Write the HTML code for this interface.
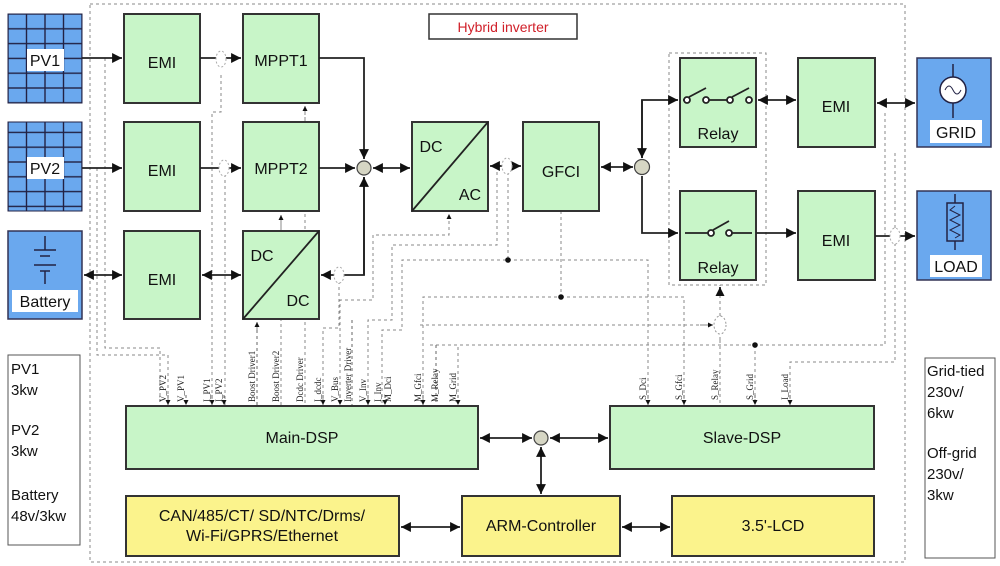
<!DOCTYPE html>
<html><head><meta charset="utf-8"><style>
html,body{margin:0;padding:0;background:#fff;}
svg{display:block;font-family:"Liberation Sans",sans-serif;}
.g{fill:#c8f5c8;stroke:#333;stroke-width:2}
.y{fill:#fbf38c;stroke:#333;stroke-width:2}
.b{fill:#6aa8ee;stroke:#335;stroke-width:1.5}
.ln{stroke:#222;stroke-width:1.8;fill:none}
.d{stroke:#888;stroke-width:1;fill:none;stroke-dasharray:3,3}
.t{font-size:16px;fill:#111;text-anchor:middle}
.v{font-family:"Liberation Serif",serif;font-size:9px;fill:#222}
</style></head><body>
<svg width="1000" height="566" viewBox="0 0 1000 566">
<defs>
<marker id="a" viewBox="0 0 10 10" refX="10" refY="5" markerWidth="5.5" markerHeight="5.5" orient="auto-start-reverse"><path d="M0,0L10,5L0,10z" fill="#111"/></marker>
<marker id="s" viewBox="0 0 10 10" refX="10" refY="5" markerWidth="5" markerHeight="5" orient="auto-start-reverse"><path d="M0,0L10,5L0,10z" fill="#111"/></marker>
<pattern id="grid" width="18.5" height="14.8" patternUnits="userSpaceOnUse" x="8" y="14"><rect width="18.5" height="14.8" fill="#6aa8ee" stroke="#224" stroke-width="1.4"/></pattern>
</defs>
<rect x="90" y="4" width="815" height="558" class="d"/>
<rect x="669" y="53" width="97" height="232" class="d"/>
<g class="d">
<path d="M105,58V348H160V405"/><path d="M97,168V355H168V405"/>
<path d="M221,75V112H212V405"/><path d="M225,168V405"/>
<path d="M305,106V405"/><path d="M281,216V405"/>
<path d="M339,275V328H323V405"/>
<path d="M449,215V235H373V300H340V405"/>
<path d="M497,166V245H392V320H368V405"/>
<path d="M508,166V260H402V330H382V405"/>
<path d="M561,211V297H423V405"/>
<path d="M508,260H648V405"/>
<path d="M561,297H684V405"/>
<path d="M420,325H712"/><path d="M436,345H458V405"/>
<path d="M720,340V285"/><path d="M720,340V405"/>
<path d="M755,345V405"/><path d="M430,345H885V110"/>
<path d="M790,405V362H895V240"/><path d="M895,240V150"/>
</g>
<circle cx="508" cy="260" r="2.8" fill="#111"/><circle cx="561" cy="297" r="2.8" fill="#111"/><circle cx="755" cy="345" r="2.8" fill="#111"/>
<ellipse cx="720" cy="325" rx="6" ry="9" fill="#fff" stroke="#999" stroke-dasharray="2,2"/>
<line x1="720" y1="290" x2="720" y2="287" class="ln" marker-end="url(#s)"/>
<line x1="700" y1="325" x2="713" y2="325" stroke="#888" marker-end="url(#s)"/>
<rect x="8" y="14" width="74" height="89" fill="url(#grid)" stroke="#224"/>
<rect x="27" y="49" width="37" height="22" fill="#fff"/><text x="45" y="66" class="t">PV1</text>
<rect x="8" y="122" width="74" height="89" fill="url(#grid)" stroke="#224"/>
<rect x="27" y="157" width="37" height="22" fill="#fff"/><text x="45" y="174" class="t">PV2</text>
<rect x="8" y="231" width="74" height="88" class="b"/>
<rect x="12" y="290" width="66" height="22" fill="#fff"/><text x="45" y="307" class="t">Battery</text>
<g stroke="#224" stroke-width="1.5"><line x1="45" y1="236" x2="45" y2="250"/><line x1="34" y1="250" x2="56" y2="250"/><line x1="40" y1="256" x2="50" y2="256"/><line x1="34" y1="265" x2="56" y2="265"/><line x1="40" y1="271" x2="50" y2="271"/><line x1="45" y1="271" x2="45" y2="284"/></g>
<rect x="124" y="14" width="76" height="89" class="g"/><text x="162" y="68" class="t">EMI</text>
<rect x="124" y="122" width="76" height="89" class="g"/><text x="162" y="176" class="t">EMI</text>
<rect x="124" y="231" width="76" height="88" class="g"/><text x="162" y="285" class="t">EMI</text>
<rect x="243" y="14" width="76" height="89" class="g"/><text x="281" y="66" class="t">MPPT1</text>
<rect x="243" y="122" width="76" height="89" class="g"/><text x="281" y="174" class="t">MPPT2</text>
<rect x="243" y="231" width="76" height="88" class="g"/><line x1="243" y1="319" x2="319" y2="231" class="ln"/>
<text x="262" y="261" class="t">DC</text><text x="298" y="306" class="t">DC</text>
<rect x="412" y="122" width="76" height="89" class="g"/><line x1="412" y1="211" x2="488" y2="122" class="ln"/>
<text x="431" y="152" class="t">DC</text><text x="470" y="200" class="t">AC</text>
<rect x="523" y="122" width="76" height="89" class="g"/><text x="561" y="177" class="t">GFCI</text>
<rect x="680" y="58" width="76" height="89" class="g"/><text x="718" y="139" class="t">Relay</text>
<rect x="680" y="191" width="76" height="89" class="g"/><text x="718" y="273" class="t">Relay</text>
<rect x="798" y="58" width="77" height="89" class="g"/><text x="836" y="112" class="t">EMI</text>
<rect x="798" y="191" width="77" height="89" class="g"/><text x="836" y="246" class="t">EMI</text>
<rect x="917" y="58" width="74" height="89" class="b"/><rect x="930" y="120" width="52" height="23" fill="#fff"/><text x="956" y="138" class="t">GRID</text>
<line x1="953" y1="64" x2="953" y2="118" stroke="#224" stroke-width="1.5"/><circle cx="953" cy="90" r="13" fill="#fff" stroke="#224" stroke-width="1.5"/><path d="M945,90q4,-8 8,0t8,0" stroke="#224" fill="none"/>
<rect x="917" y="191" width="74" height="89" class="b"/><rect x="930" y="255" width="52" height="22" fill="#fff"/><text x="956" y="272" class="t">LOAD</text>
<line x1="955" y1="194" x2="955" y2="250" stroke="#224" stroke-width="1.5"/><rect x="947" y="203" width="16" height="38" fill="#6aa8ee" stroke="#224" stroke-width="1.5"/><path d="M955,206l-5,4l10,5l-10,5l10,5l-10,5l10,5l-5,3" stroke="#224" fill="none"/>
<g class="ln"><path d="M683,100H687"/><circle cx="687" cy="100" r="3" fill="#fff"/><path d="M689,97L706,88"/><circle cx="706" cy="100" r="3" fill="#fff"/><path d="M709,100H728"/><circle cx="730" cy="100" r="3" fill="#fff"/><path d="M732,97L749,88"/><circle cx="749" cy="100" r="3" fill="#fff"/>
<path d="M685,233H709"/><circle cx="711" cy="233" r="3" fill="#fff"/><path d="M713,230L729,221"/><circle cx="729" cy="233" r="3" fill="#fff"/><path d="M732,233H752"/></g>
<rect x="429" y="14" width="148" height="25" fill="#fff" stroke="#333" stroke-width="1.5"/><text x="503" y="32" font-size="14" fill="#d0202a" text-anchor="middle">Hybrid inverter</text>
<g class="ln">
<path d="M82,58H122" marker-end="url(#a)"/><path d="M82,168H122" marker-end="url(#a)"/><path d="M84,275H122" marker-start="url(#a)" marker-end="url(#a)"/>
<path d="M200,58H241" marker-end="url(#a)"/><path d="M200,168H241" marker-end="url(#a)"/><path d="M202,275H241" marker-start="url(#a)" marker-end="url(#a)"/>
<path d="M319,58H364V159" marker-end="url(#a)"/><path d="M319,168H355" marker-end="url(#a)"/>
<path d="M364,177V275H321" marker-end="url(#a)"/><path d="M364,275V177" marker-end="url(#a)"/>
<path d="M373,168H410" marker-start="url(#a)" marker-end="url(#a)"/>
<path d="M490,166H521" marker-start="url(#a)" marker-end="url(#a)"/>
<path d="M601,167H633" marker-start="url(#a)" marker-end="url(#a)"/>
<path d="M642,158V100H678" marker-end="url(#a)"/><path d="M642,100V158" marker-end="url(#a)"/>
<path d="M642,176V233H678" marker-end="url(#a)"/>
<path d="M758,100H796" marker-start="url(#a)" marker-end="url(#a)"/>
<path d="M756,233H796" marker-end="url(#a)"/>
<path d="M877,103H915" marker-start="url(#a)" marker-end="url(#a)"/>
<path d="M875,236H915" marker-end="url(#a)"/>
</g>
<circle cx="364" cy="168" r="7" fill="#d6d6c4" stroke="#444" stroke-width="1.2"/>
<circle cx="642" cy="167" r="7.5" fill="#d6d6c4" stroke="#444" stroke-width="1.2"/>
<g fill="#fff" stroke="#aaa" stroke-dasharray="2,2"><ellipse cx="221" cy="59" rx="5" ry="8"/><ellipse cx="224" cy="168" rx="5" ry="8"/><ellipse cx="339" cy="275" rx="5" ry="8"/><ellipse cx="507" cy="166" rx="5" ry="8"/><ellipse cx="895" cy="236" rx="5" ry="8"/></g>
<g stroke="#888" fill="none" stroke-dasharray="3,3"><path d="M305,120V106" marker-end="url(#s)"/><path d="M281,228V215" marker-end="url(#s)"/><path d="M257,330V322" marker-end="url(#s)"/><path d="M449,230V214" marker-end="url(#s)"/></g>
<g stroke="#666" stroke-dasharray="3,3">
<path d="M168,395V405" marker-end="url(#s)"/><path d="M186,395V405" marker-end="url(#s)"/><path d="M212,395V405" marker-end="url(#s)"/><path d="M224,395V405" marker-end="url(#s)"/>
<path d="M323,395V405" marker-end="url(#s)"/><path d="M340,395V405" marker-end="url(#s)"/><path d="M368,395V405" marker-end="url(#s)"/><path d="M385,395V405" marker-end="url(#s)"/><path d="M423,395V405" marker-end="url(#s)"/><path d="M458,395V405" marker-end="url(#s)"/>
<path d="M648,395V405" marker-end="url(#s)"/><path d="M684,395V405" marker-end="url(#s)"/><path d="M755,395V405" marker-end="url(#s)"/><path d="M790,395V405" marker-end="url(#s)"/>
<path d="M257,330V405"/><path d="M352,320V405"/><path d="M436,345V405"/>
</g>
<g class="v">
<text transform="translate(166,402) rotate(-90)">V_PV2</text><text transform="translate(184,402) rotate(-90)">V_PV1</text>
<text transform="translate(210,402) rotate(-90)">I_PV1</text><text transform="translate(222,402) rotate(-90)">I_PV2</text>
<text transform="translate(255,402) rotate(-90)">Boost Driver1</text><text transform="translate(279,402) rotate(-90)">Boost Driver2</text>
<text transform="translate(303,402) rotate(-90)">Dcdc Driver</text><text transform="translate(321,402) rotate(-90)">I_dcdc</text>
<text transform="translate(338,402) rotate(-90)">V_Bus</text><text transform="translate(351,402) rotate(-90)">Inverter Driver</text>
<text transform="translate(366,402) rotate(-90)">V_Inv</text><text transform="translate(381,402) rotate(-90)">I_Inv</text>
<text transform="translate(391,402) rotate(-90)">M_Dci</text><text transform="translate(421,402) rotate(-90)">M_Gfci</text>
<text transform="translate(438,402) rotate(-90)">M_Relay</text><text transform="translate(456,402) rotate(-90)">M_Grid</text>
<text transform="translate(646,400) rotate(-90)">S_Dci</text><text transform="translate(682,400) rotate(-90)">S_Gfci</text>
<text transform="translate(718,400) rotate(-90)">S_Relay</text><text transform="translate(753,400) rotate(-90)">S_Grid</text>
<text transform="translate(788,400) rotate(-90)">I_Load</text>
</g>
<rect x="126" y="406" width="352" height="63" class="g"/><text x="302" y="443" class="t">Main-DSP</text>
<rect x="610" y="406" width="264" height="63" class="g"/><text x="742" y="443" class="t">Slave-DSP</text>
<circle cx="541" cy="438" r="7" fill="#d6d6c4" stroke="#444" stroke-width="1.2"/>
<g class="ln" stroke-width="1.5"><path d="M480,438H532" marker-start="url(#a)" marker-end="url(#a)"/><path d="M550,438H608" marker-start="url(#a)" marker-end="url(#a)"/><path d="M541,447V494" marker-start="url(#a)" marker-end="url(#a)"/>
<path d="M401,527H460" marker-start="url(#a)" marker-end="url(#a)"/><path d="M622,527H670" marker-start="url(#a)" marker-end="url(#a)"/></g>
<rect x="126" y="496" width="273" height="60" class="y"/><text x="262" y="521" class="t">CAN/485/CT/ SD/NTC/Drms/</text><text x="262" y="541" class="t">Wi-Fi/GPRS/Ethernet</text>
<rect x="462" y="496" width="158" height="60" class="y"/><text x="541" y="531" class="t">ARM-Controller</text>
<rect x="672" y="496" width="202" height="60" class="y"/><text x="773" y="531" class="t">3.5'-LCD</text>
<rect x="8" y="355" width="72" height="190" fill="#fff" stroke="#555"/>
<g font-size="15" fill="#111"><text x="11" y="374">PV1</text><text x="11" y="395">3kw</text><text x="11" y="435">PV2</text><text x="11" y="456">3kw</text><text x="11" y="500">Battery</text><text x="11" y="521">48v/3kw</text></g>
<rect x="925" y="358" width="70" height="200" fill="#fff" stroke="#555"/>
<g font-size="15" fill="#111"><text x="927" y="376">Grid-tied</text><text x="927" y="397">230v/</text><text x="927" y="418">6kw</text><text x="927" y="458">Off-grid</text><text x="927" y="479">230v/</text><text x="927" y="500">3kw</text></g>
</svg>
</body></html>
